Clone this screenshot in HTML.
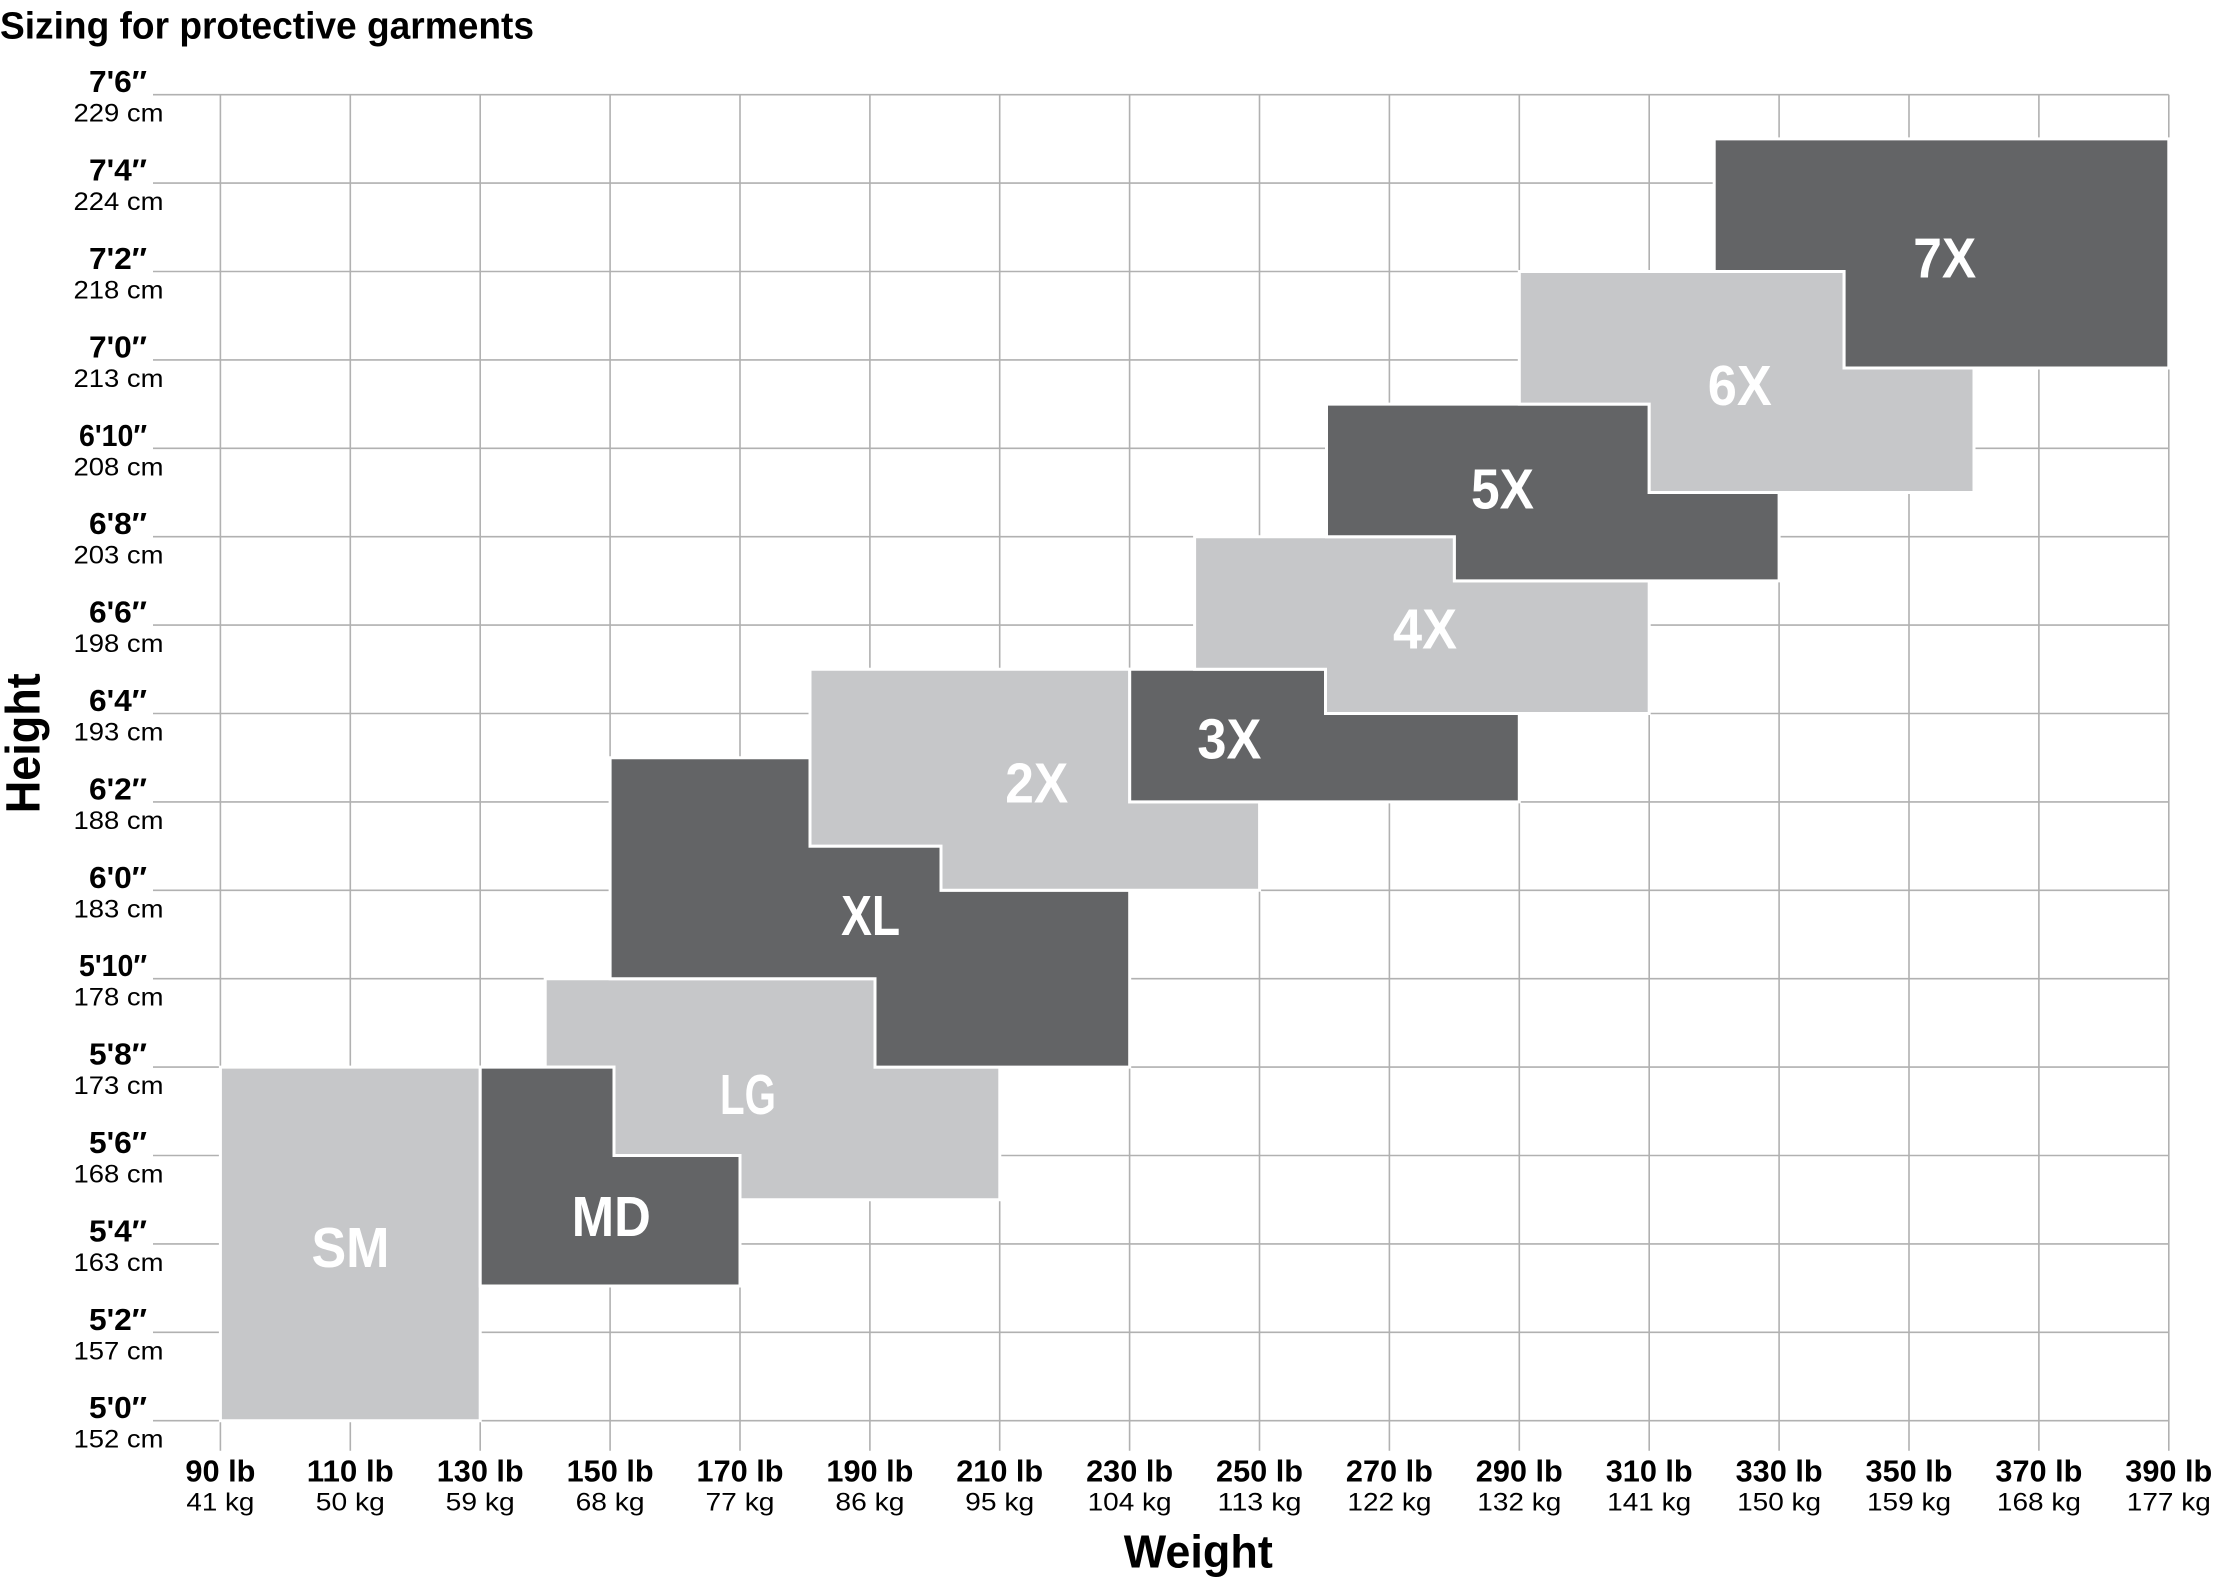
<!DOCTYPE html>
<html>
<head>
<meta charset="utf-8">
<style>
html,body{margin:0;padding:0;background:#fff;}
svg{display:block;}
text{font-family:"Liberation Sans",sans-serif;}
.ft{font-size:31px;font-weight:bold;fill:#000;text-anchor:end;}
.cm{font-size:25px;fill:#000;text-anchor:end;}
.lb{font-size:31px;font-weight:bold;fill:#000;text-anchor:middle;}
.kg{font-size:25px;fill:#000;text-anchor:middle;}
.bx{font-size:57px;font-weight:bold;fill:#fff;text-anchor:middle;}
.d{fill:#636466;stroke:#fff;stroke-width:3;}
.l{fill:#c6c7c9;stroke:#fff;stroke-width:3;}
</style>
</head>
<body>
<svg width="2217" height="1582" viewBox="0 0 2217 1582" xmlns="http://www.w3.org/2000/svg">
<rect x="0" y="0" width="2217" height="1582" fill="#fff"/>
<text x="0" y="38.5" font-size="38" font-weight="bold" fill="#000" textLength="534" lengthAdjust="spacingAndGlyphs">Sizing for protective garments</text>

<g stroke="#b1b1b1" stroke-width="1.6" fill="none">
<line x1="153" y1="94.7" x2="2168.8" y2="94.7"/>
<line x1="153" y1="183.1" x2="2168.8" y2="183.1"/>
<line x1="153" y1="271.5" x2="2168.8" y2="271.5"/>
<line x1="153" y1="359.9" x2="2168.8" y2="359.9"/>
<line x1="153" y1="448.3" x2="2168.8" y2="448.3"/>
<line x1="153" y1="536.7" x2="2168.8" y2="536.7"/>
<line x1="153" y1="625.1" x2="2168.8" y2="625.1"/>
<line x1="153" y1="713.5" x2="2168.8" y2="713.5"/>
<line x1="153" y1="801.9" x2="2168.8" y2="801.9"/>
<line x1="153" y1="890.3" x2="2168.8" y2="890.3"/>
<line x1="153" y1="978.7" x2="2168.8" y2="978.7"/>
<line x1="153" y1="1067.1" x2="2168.8" y2="1067.1"/>
<line x1="153" y1="1155.5" x2="2168.8" y2="1155.5"/>
<line x1="153" y1="1243.9" x2="2168.8" y2="1243.9"/>
<line x1="153" y1="1332.3" x2="2168.8" y2="1332.3"/>
<line x1="153" y1="1420.7" x2="2168.8" y2="1420.7"/>

<line x1="220.4" y1="94.7" x2="220.4" y2="1450.7"/>
<line x1="350.3" y1="94.7" x2="350.3" y2="1450.7"/>
<line x1="480.2" y1="94.7" x2="480.2" y2="1450.7"/>
<line x1="610.1" y1="94.7" x2="610.1" y2="1450.7"/>
<line x1="740.0" y1="94.7" x2="740.0" y2="1450.7"/>
<line x1="869.9" y1="94.7" x2="869.9" y2="1450.7"/>
<line x1="999.7" y1="94.7" x2="999.7" y2="1450.7"/>
<line x1="1129.6" y1="94.7" x2="1129.6" y2="1450.7"/>
<line x1="1259.5" y1="94.7" x2="1259.5" y2="1450.7"/>
<line x1="1389.4" y1="94.7" x2="1389.4" y2="1450.7"/>
<line x1="1519.3" y1="94.7" x2="1519.3" y2="1450.7"/>
<line x1="1649.2" y1="94.7" x2="1649.2" y2="1450.7"/>
<line x1="1779.1" y1="94.7" x2="1779.1" y2="1450.7"/>
<line x1="1909.0" y1="94.7" x2="1909.0" y2="1450.7"/>
<line x1="2038.9" y1="94.7" x2="2038.9" y2="1450.7"/>
<line x1="2168.8" y1="94.7" x2="2168.8" y2="1450.7"/>
</g>

<!-- Shapes -->
<polygon class="l" points="220.4,1067.1 480.2,1067.1 480.2,1420.7 220.4,1420.7"/>
<polygon class="l" points="545.2,978.7 875,978.7 875,1067.1 999.8,1067.1 999.8,1199.7 740,1199.7 740,1155.5 614,1155.5 614,1067.1 545.2,1067.1"/>
<polygon class="d" points="480.2,1067.1 614,1067.1 614,1155.5 740,1155.5 740,1286 480.2,1286"/>
<polygon class="d" points="610.1,757.7 810,757.7 810,846.1 941,846.1 941,890.3 1129.7,890.3 1129.7,1067.1 875,1067.1 875,978.7 610.1,978.7"/>
<polygon class="l" points="810,669.3 1129.7,669.3 1129.7,801.9 1259.6,801.9 1259.6,890.3 941,890.3 941,846.1 810,846.1"/>
<polygon class="d" points="1129.7,669.3 1325.5,669.3 1325.5,713.5 1519.3,713.5 1519.3,801.9 1129.7,801.9"/>
<polygon class="l" points="1194.6,536.7 1454.4,536.7 1454.4,580.9 1649.2,580.9 1649.2,713.5 1325.5,713.5 1325.5,669.3 1194.6,669.3"/>
<polygon class="d" points="1326.5,404.1 1649.2,404.1 1649.2,492.5 1779.1,492.5 1779.1,580.9 1454.4,580.9 1454.4,536.7 1326.5,536.7"/>
<polygon class="l" points="1519.3,271.5 1844.1,271.5 1844.1,368 1974,368 1974,492.5 1649.2,492.5 1649.2,404.1 1519.3,404.1"/>
<polygon class="d" points="1714.2,138.9 2168.8,138.9 2168.8,368 1844.1,368 1844.1,271.5 1714.2,271.5"/>

<!-- Box labels -->
<text class="bx" x="350.5" y="1267" textLength="78" lengthAdjust="spacingAndGlyphs">SM</text>
<text class="bx" x="611.3" y="1236" textLength="79" lengthAdjust="spacingAndGlyphs">MD</text>
<text class="bx" x="748" y="1114" textLength="56" lengthAdjust="spacingAndGlyphs">LG</text>
<text class="bx" x="870.6" y="935" textLength="59" lengthAdjust="spacingAndGlyphs">XL</text>
<text class="bx" x="1036.8" y="802.3" textLength="63" lengthAdjust="spacingAndGlyphs">2X</text>
<text class="bx" x="1229.4" y="758.3" textLength="64" lengthAdjust="spacingAndGlyphs">3X</text>
<text class="bx" x="1425" y="648.3" textLength="64" lengthAdjust="spacingAndGlyphs">4X</text>
<text class="bx" x="1502.5" y="508.3" textLength="63" lengthAdjust="spacingAndGlyphs">5X</text>
<text class="bx" x="1739.8" y="405" textLength="64" lengthAdjust="spacingAndGlyphs">6X</text>
<text class="bx" x="1944.7" y="277.3" textLength="63" lengthAdjust="spacingAndGlyphs">7X</text>

<!-- Y labels -->
<text class="ft" x="147" y="92.2" textLength="58" lengthAdjust="spacingAndGlyphs">7'6″</text>
<text class="cm" x="163.5" y="121.7" textLength="90" lengthAdjust="spacingAndGlyphs">229 cm</text>
<text class="ft" x="147" y="180.6" textLength="58" lengthAdjust="spacingAndGlyphs">7'4″</text>
<text class="cm" x="163.5" y="210.1" textLength="90" lengthAdjust="spacingAndGlyphs">224 cm</text>
<text class="ft" x="147" y="269" textLength="58" lengthAdjust="spacingAndGlyphs">7'2″</text>
<text class="cm" x="163.5" y="298.5" textLength="90" lengthAdjust="spacingAndGlyphs">218 cm</text>
<text class="ft" x="147" y="357.4" textLength="58" lengthAdjust="spacingAndGlyphs">7'0″</text>
<text class="cm" x="163.5" y="386.9" textLength="90" lengthAdjust="spacingAndGlyphs">213 cm</text>
<text class="ft" x="147" y="445.8" textLength="68" lengthAdjust="spacingAndGlyphs">6'10″</text>
<text class="cm" x="163.5" y="475.3" textLength="90" lengthAdjust="spacingAndGlyphs">208 cm</text>
<text class="ft" x="147" y="534.2" textLength="58" lengthAdjust="spacingAndGlyphs">6'8″</text>
<text class="cm" x="163.5" y="563.7" textLength="90" lengthAdjust="spacingAndGlyphs">203 cm</text>
<text class="ft" x="147" y="622.6" textLength="58" lengthAdjust="spacingAndGlyphs">6'6″</text>
<text class="cm" x="163.5" y="652.1" textLength="90" lengthAdjust="spacingAndGlyphs">198 cm</text>
<text class="ft" x="147" y="711" textLength="58" lengthAdjust="spacingAndGlyphs">6'4″</text>
<text class="cm" x="163.5" y="740.5" textLength="90" lengthAdjust="spacingAndGlyphs">193 cm</text>
<text class="ft" x="147" y="799.4" textLength="58" lengthAdjust="spacingAndGlyphs">6'2″</text>
<text class="cm" x="163.5" y="828.9" textLength="90" lengthAdjust="spacingAndGlyphs">188 cm</text>
<text class="ft" x="147" y="887.8" textLength="58" lengthAdjust="spacingAndGlyphs">6'0″</text>
<text class="cm" x="163.5" y="917.3" textLength="90" lengthAdjust="spacingAndGlyphs">183 cm</text>
<text class="ft" x="147" y="976.2" textLength="68" lengthAdjust="spacingAndGlyphs">5'10″</text>
<text class="cm" x="163.5" y="1005.7" textLength="90" lengthAdjust="spacingAndGlyphs">178 cm</text>
<text class="ft" x="147" y="1064.6" textLength="58" lengthAdjust="spacingAndGlyphs">5'8″</text>
<text class="cm" x="163.5" y="1094.1" textLength="90" lengthAdjust="spacingAndGlyphs">173 cm</text>
<text class="ft" x="147" y="1153" textLength="58" lengthAdjust="spacingAndGlyphs">5'6″</text>
<text class="cm" x="163.5" y="1182.5" textLength="90" lengthAdjust="spacingAndGlyphs">168 cm</text>
<text class="ft" x="147" y="1241.4" textLength="58" lengthAdjust="spacingAndGlyphs">5'4″</text>
<text class="cm" x="163.5" y="1270.9" textLength="90" lengthAdjust="spacingAndGlyphs">163 cm</text>
<text class="ft" x="147" y="1329.8" textLength="58" lengthAdjust="spacingAndGlyphs">5'2″</text>
<text class="cm" x="163.5" y="1359.3" textLength="90" lengthAdjust="spacingAndGlyphs">157 cm</text>
<text class="ft" x="147" y="1418.2" textLength="58" lengthAdjust="spacingAndGlyphs">5'0″</text>
<text class="cm" x="163.5" y="1447.7" textLength="90" lengthAdjust="spacingAndGlyphs">152 cm</text>

<!-- X labels -->
<text class="lb" x="220.4" y="1481.7" textLength="70" lengthAdjust="spacingAndGlyphs">90 lb</text>
<text class="kg" x="220.4" y="1510.7" textLength="68" lengthAdjust="spacingAndGlyphs">41 kg</text>
<text class="lb" x="350.3" y="1481.7" textLength="87" lengthAdjust="spacingAndGlyphs">110 lb</text>
<text class="kg" x="350.3" y="1510.7" textLength="69" lengthAdjust="spacingAndGlyphs">50 kg</text>
<text class="lb" x="480.2" y="1481.7" textLength="87" lengthAdjust="spacingAndGlyphs">130 lb</text>
<text class="kg" x="480.2" y="1510.7" textLength="69" lengthAdjust="spacingAndGlyphs">59 kg</text>
<text class="lb" x="610.1" y="1481.7" textLength="87" lengthAdjust="spacingAndGlyphs">150 lb</text>
<text class="kg" x="610.1" y="1510.7" textLength="69" lengthAdjust="spacingAndGlyphs">68 kg</text>
<text class="lb" x="740.0" y="1481.7" textLength="87" lengthAdjust="spacingAndGlyphs">170 lb</text>
<text class="kg" x="740.0" y="1510.7" textLength="69" lengthAdjust="spacingAndGlyphs">77 kg</text>
<text class="lb" x="869.9" y="1481.7" textLength="87" lengthAdjust="spacingAndGlyphs">190 lb</text>
<text class="kg" x="869.9" y="1510.7" textLength="69" lengthAdjust="spacingAndGlyphs">86 kg</text>
<text class="lb" x="999.7" y="1481.7" textLength="87" lengthAdjust="spacingAndGlyphs">210 lb</text>
<text class="kg" x="999.7" y="1510.7" textLength="69" lengthAdjust="spacingAndGlyphs">95 kg</text>
<text class="lb" x="1129.6" y="1481.7" textLength="87" lengthAdjust="spacingAndGlyphs">230 lb</text>
<text class="kg" x="1129.6" y="1510.7" textLength="84" lengthAdjust="spacingAndGlyphs">104 kg</text>
<text class="lb" x="1259.5" y="1481.7" textLength="87" lengthAdjust="spacingAndGlyphs">250 lb</text>
<text class="kg" x="1259.5" y="1510.7" textLength="84" lengthAdjust="spacingAndGlyphs">113 kg</text>
<text class="lb" x="1389.4" y="1481.7" textLength="87" lengthAdjust="spacingAndGlyphs">270 lb</text>
<text class="kg" x="1389.4" y="1510.7" textLength="84" lengthAdjust="spacingAndGlyphs">122 kg</text>
<text class="lb" x="1519.3" y="1481.7" textLength="87" lengthAdjust="spacingAndGlyphs">290 lb</text>
<text class="kg" x="1519.3" y="1510.7" textLength="84" lengthAdjust="spacingAndGlyphs">132 kg</text>
<text class="lb" x="1649.2" y="1481.7" textLength="87" lengthAdjust="spacingAndGlyphs">310 lb</text>
<text class="kg" x="1649.2" y="1510.7" textLength="84" lengthAdjust="spacingAndGlyphs">141 kg</text>
<text class="lb" x="1779.1" y="1481.7" textLength="87" lengthAdjust="spacingAndGlyphs">330 lb</text>
<text class="kg" x="1779.1" y="1510.7" textLength="84" lengthAdjust="spacingAndGlyphs">150 kg</text>
<text class="lb" x="1909.0" y="1481.7" textLength="87" lengthAdjust="spacingAndGlyphs">350 lb</text>
<text class="kg" x="1909.0" y="1510.7" textLength="84" lengthAdjust="spacingAndGlyphs">159 kg</text>
<text class="lb" x="2038.9" y="1481.7" textLength="87" lengthAdjust="spacingAndGlyphs">370 lb</text>
<text class="kg" x="2038.9" y="1510.7" textLength="84" lengthAdjust="spacingAndGlyphs">168 kg</text>
<text class="lb" x="2168.8" y="1481.7" textLength="87" lengthAdjust="spacingAndGlyphs">390 lb</text>
<text class="kg" x="2168.8" y="1510.7" textLength="84" lengthAdjust="spacingAndGlyphs">177 kg</text>

<!-- Axis titles -->
<text x="1198.3" y="1567.7" font-size="46" font-weight="bold" fill="#000" text-anchor="middle" textLength="149" lengthAdjust="spacingAndGlyphs">Weight</text>
<text transform="translate(39.5,743.3) rotate(-90)" x="0" y="0" font-size="48" font-weight="bold" fill="#000" text-anchor="middle" textLength="140" lengthAdjust="spacingAndGlyphs">Height</text>
</svg>
</body>
</html>
